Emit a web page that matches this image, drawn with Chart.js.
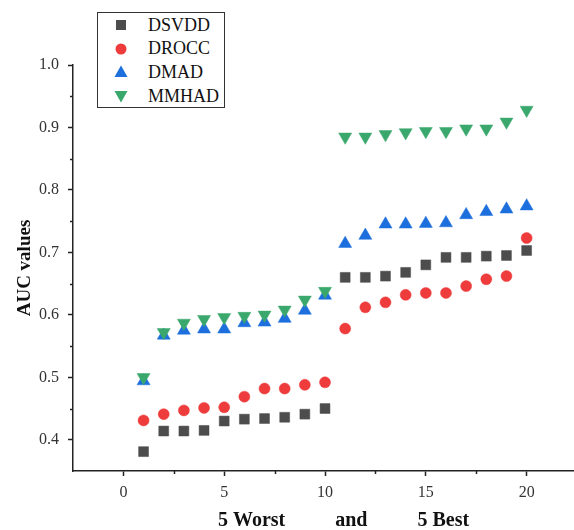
<!DOCTYPE html>
<html lang="en">
<head>
    <meta charset="UTF-8">
    <title>AUC values: 5 Worst and 5 Best</title>
    <script src="https://cdn.jsdelivr.net/npm/chart.js"></script>
    <style>
        body {
            margin: 0;
            padding: 0;
            background: #fff;
            font-family: "Liberation Serif", "Times New Roman", serif;
        }

        .wrap {
            position: relative;
            width: 574px;
            height: 530px;
            overflow: hidden;
        }

        .legend {
            position: absolute;
            left: 97px;
            top: 12px;
            width: 128px;
            height: 96px;
            box-sizing: border-box;
            border: 1.5px solid #333;
            background: #fff;
        }

        .legend .row {
            position: absolute;
            left: 0;
            height: 24px;
            display: flex;
            align-items: center;
            font-size: 18px;
            color: #111;
        }

        .legend svg {
            width: 16px;
            height: 16px;
            margin-left: 15px;
            margin-right: 19px;
        }
    </style>
</head>
<body>
    <div class="wrap">
        <!-- canvas a little wider than the window so the x axis runs off the right edge like the original -->
        <canvas id="aucChart" width="581" height="530"></canvas>
        <div class="legend" id="legend"></div>
    </div>

    <script>
        // x positions (rank of the class, 1..10 worst, 11..20 best)
        const ranks = [1, 2, 3, 4, 5, 6, 7, 8, 9, 10, 11, 12, 13, 14, 15, 16, 17, 18, 19, 20];

        const dsvdd = [0.381, 0.414, 0.414, 0.415, 0.430, 0.433, 0.434, 0.436, 0.441, 0.450,
                       0.660, 0.660, 0.662, 0.668, 0.680, 0.692, 0.692, 0.694, 0.695, 0.703];
        const drocc = [0.431, 0.441, 0.447, 0.451, 0.452, 0.469, 0.482, 0.482, 0.488, 0.492,
                       0.578, 0.612, 0.620, 0.632, 0.635, 0.635, 0.646, 0.657, 0.662, 0.723];
        const dmad  = [0.494, 0.567, 0.575, 0.577, 0.577, 0.587, 0.588, 0.594, 0.607, 0.631,
                       0.714, 0.727, 0.745, 0.745, 0.746, 0.747, 0.760, 0.765, 0.769, 0.774];
        const mmhad = [0.500, 0.572, 0.587, 0.593, 0.596, 0.598, 0.600, 0.608, 0.624, 0.638,
                       0.885, 0.885, 0.889, 0.892, 0.894, 0.894, 0.898, 0.898, 0.909, 0.928];

        const seriesNames = ['DSVDD', 'DROCC', 'DMAD', 'MMHAD'];
        const seriesColors = ['#4d4d4d', '#ee3b3b', '#1c6fdd', '#3aa86c'];

        const xMajorTicks = [0, 5, 10, 15, 20];
        const xMinorTicks = [2.5, 7.5, 12.5, 17.5];
        const yMajorTicks = [0.4, 0.5, 0.6, 0.7, 0.8, 0.9, 1.0];
        const yMinorTicks = [0.45, 0.55, 0.65, 0.75, 0.85, 0.95];

        const xTitle = '5 Worst          and          5 Best';
        const yTitle = 'AUC values';

        const axisColor = '#222';
        const tickFont = { family: '"Liberation Serif", "Times New Roman", serif', size: 16 };

        function toPoints(values) {
            return values.map((v, i) => ({ x: ranks[i], y: v }));
        }

        // minor ticks (shorter) and the x title, drawn from the scales
        const extrasPlugin = {
            id: 'extras',
            afterDraw(chart) {
                const ctx = chart.ctx;
                const xs = chart.scales.x;
                const ys = chart.scales.y;
                ctx.save();
                ctx.strokeStyle = axisColor;
                ctx.lineWidth = 1.5;
                xMinorTicks.forEach(v => {
                    const px = Math.round(xs.getPixelForValue(v)) + 0.5;
                    ctx.beginPath();
                    ctx.moveTo(px, xs.top);
                    ctx.lineTo(px, xs.top + 3);
                    ctx.stroke();
                });
                yMinorTicks.forEach(v => {
                    const py = Math.round(ys.getPixelForValue(v)) + 0.5;
                    ctx.beginPath();
                    ctx.moveTo(ys.right, py);
                    ctx.lineTo(ys.right - 3, py);
                    ctx.stroke();
                });

                ctx.fillStyle = '#111';
                ctx.font = 'bold 20px "Liberation Serif", "Times New Roman", serif';
                ctx.textAlign = 'center';
                ctx.textBaseline = 'alphabetic';
                ctx.fillText(xTitle, xs.getPixelForValue(10.92), 526);
                ctx.restore();
            }
        };

        const datasets = [
            { label: seriesNames[0], data: toPoints(dsvdd), pointStyle: 'rect', pointRadius: 7, order: 3 },
            { label: seriesNames[1], data: toPoints(drocc), pointStyle: 'circle', pointRadius: 5.5, order: 2 },
            { label: seriesNames[2], data: toPoints(dmad), pointStyle: 'triangle', pointRadius: 7.5, order: 1 },
            { label: seriesNames[3], data: toPoints(mmhad), pointStyle: 'triangle', pointRotation: 180, pointRadius: 7.5, order: 0 }
        ].map((d, i) => Object.assign(d, {
            backgroundColor: seriesColors[i],
            borderColor: seriesColors[i],
            pointBorderWidth: 0.5,
            pointHoverRadius: d.pointRadius
        }));

        new Chart(document.getElementById('aucChart').getContext('2d'), {
            type: 'scatter',
            data: { datasets },
            plugins: [extrasPlugin],
            options: {
                responsive: false,
                animation: false,
                layout: { padding: { top: 65, right: 0, bottom: 0, left: 0 } },
                plugins: {
                    legend: { display: false },
                    tooltip: { enabled: false }
                },
                scales: {
                    x: {
                        type: 'linear',
                        min: -2.5,
                        max: 22.3,
                        afterBuildTicks: scale => { scale.ticks = xMajorTicks.map(v => ({ value: v })); },
                        afterFit: scale => { scale.height = 59; },
                        border: { display: true, color: axisColor, width: 1.5 },
                        grid: { drawOnChartArea: false, drawTicks: true, tickLength: 5, tickColor: axisColor, tickWidth: 1.5 },
                        ticks: { color: '#333', font: tickFont, padding: 7, maxRotation: 0 }
                    },
                    y: {
                        type: 'linear',
                        min: 0.35,
                        max: 1.0,
                        afterBuildTicks: scale => { scale.ticks = yMajorTicks.map(v => ({ value: v })); },
                        afterFit: scale => { scale.width = 73; },
                        border: { display: true, color: axisColor, width: 1.5 },
                        grid: { drawOnChartArea: false, drawTicks: true, tickLength: 5, tickColor: axisColor, tickWidth: 1.5 },
                        ticks: { color: '#333', font: tickFont, padding: 9, callback: v => v.toFixed(1) },
                        title: {
                            display: true,
                            text: yTitle,
                            color: '#111',
                            font: { family: '"Liberation Serif", "Times New Roman", serif', size: 19, weight: 'bold' },
                            padding: { top: 14, bottom: 0 }
                        }
                    }
                }
            }
        });

        // legend box
        const markerSvg = [
            '<rect x="3" y="3" width="10" height="10" fill="' + seriesColors[0] + '"/>',
            '<circle cx="8" cy="8" r="5.5" fill="' + seriesColors[1] + '"/>',
            '<polygon points="8,1.5 14.5,13 1.5,13" fill="' + seriesColors[2] + '"/>',
            '<polygon points="1.5,3 14.5,3 8,14.5" fill="' + seriesColors[3] + '"/>'
        ];
        const legend = document.getElementById('legend');
        seriesNames.forEach((name, i) => {
            const row = document.createElement('div');
            row.className = 'row';
            row.style.top = (i * 23.7) + 'px';
            row.innerHTML = '<svg viewBox="0 0 16 16">' + markerSvg[i] + '</svg><span>' + name + '</span>';
            legend.appendChild(row);
        });
    </script>
</body>
</html>
